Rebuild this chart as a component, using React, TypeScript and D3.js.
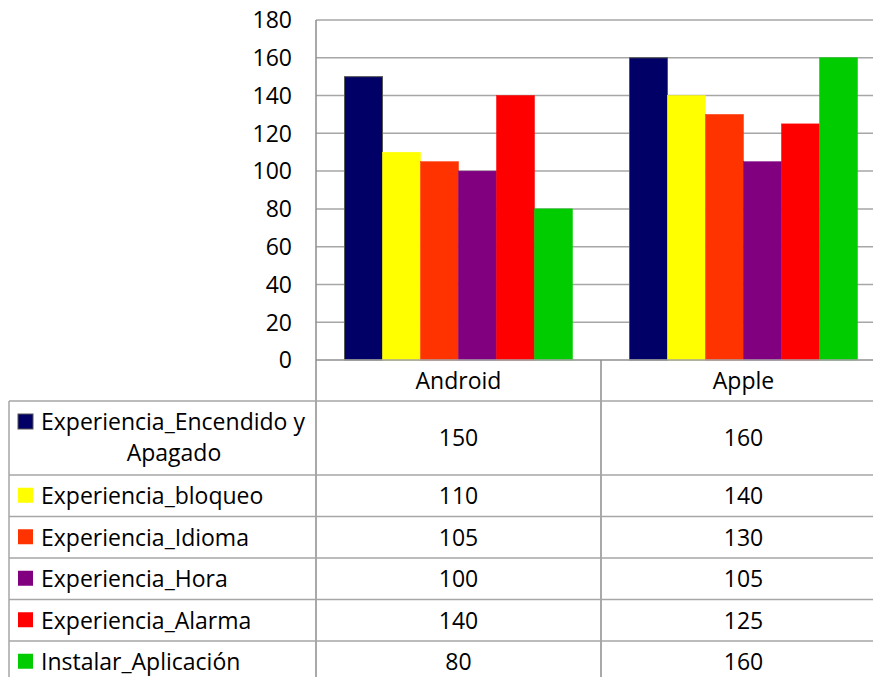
import React from 'react';
import * as d3 from 'd3';

const categories = ['Android', 'Apple'];
const seriesNames = [
  'Experiencia_Encendido y Apagado',
  'Experiencia_bloqueo',
  'Experiencia_Idioma',
  'Experiencia_Hora',
  'Experiencia_Alarma',
  'Instalar_Aplicación',
];
const androidValues = [150, 110, 105, 100, 140, 80];
const appleValues = [160, 140, 130, 105, 125, 160];
const seriesColors = ['#000066', '#FFFF00', '#FF3300', '#800080', '#FF0000', '#00CC00'];
const yTicks = [0, 20, 40, 60, 80, 100, 120, 140, 160, 180];

const W = 873;
const H = 677;
const FONT = '"Open Sans", sans-serif';
const FS = 23;

const App: React.FC = () => {
  const plotLeft = 316;
  const plotRight = 886;
  const plotTop = 20;
  const plotBottom = 360;

  const y = d3.scaleLinear().domain([0, 180]).range([plotBottom, plotTop]);
  const x0 = d3.scaleBand<string>().domain(categories).range([plotLeft, plotRight]);
  const bw = x0.bandwidth();
  const x1 = d3.scaleBand<string>().domain(seriesNames).range([bw * 0.1, bw * 0.9]);

  const valuesByCat = [androidValues, appleValues];

  // table geometry
  const headerBottom = 401;
  const rowHeights = [74, 41.5, 41.5, 41.5, 41.5, 41.5];
  const rowTops: number[] = [];
  let acc = headerBottom;
  rowHeights.forEach((h) => { rowTops.push(acc); acc += h; });
  const tableLeft = 9;
  const gridColor = '#a6a6a6';
  const lineColor = '#8c8c8c';

  return (
    <svg width={W} height={H} style={{ position: 'absolute', left: 0, top: 0, background: '#fff' }}>
      <rect x={0} y={0} width={W} height={H} fill="#fff" />
      {/* gridlines */}
      {yTicks.map((t) => (
        <line key={'g' + t} x1={plotLeft} x2={plotRight} y1={y(t)} y2={y(t)} stroke={gridColor} strokeWidth={1.5} />
      ))}
      {/* y tick labels */}
      {yTicks.map((t) => (
        <text key={'t' + t} x={292} y={y(t)} dy="0.36em" textAnchor="end" fontFamily={FONT} fontSize={FS} fill="#000">
          {t}
        </text>
      ))}
      {/* bars */}
      {categories.map((c, ci) => (
        <g key={c} transform={`translate(${x0(c)},0)`}>
          {seriesNames.map((s, si) => (
            <rect
              key={s}
              x={x1(s)}
              y={y(valuesByCat[ci][si])}
              width={x1.bandwidth()}
              height={y(0) - y(valuesByCat[ci][si])}
              fill={seriesColors[si]}
              stroke={si === 0 ? '#555' : seriesColors[si]}
              strokeWidth={si === 0 ? 1 : 0.5}
            />
          ))}
        </g>
      ))}
      {/* axis line */}
      <line x1={plotLeft} x2={plotRight} y1={plotBottom} y2={plotBottom} stroke={gridColor} strokeWidth={1.5} />
      <line x1={plotLeft} x2={plotLeft} y1={plotTop} y2={H} stroke={lineColor} strokeWidth={1.5} />
      <line x1={601} x2={601} y1={plotBottom} y2={H} stroke={lineColor} strokeWidth={1.5} />
      <line x1={tableLeft} x2={tableLeft} y1={headerBottom} y2={H} stroke={gridColor} strokeWidth={1.5} />
      {/* category labels */}
      {categories.map((c) => (
        <text key={c} x={(x0(c) as number) + bw / 2} y={(plotBottom + headerBottom) / 2} dy="0.36em" textAnchor="middle" fontFamily={FONT} fontSize={FS} fill="#000">
          {c}
        </text>
      ))}
      {/* table rows */}
      {seriesNames.map((s, si) => {
        const top = rowTops[si];
        const h = rowHeights[si];
        const mid = top + h / 2;
        return (
          <g key={s}>
            <line x1={tableLeft} x2={plotRight} y1={top} y2={top} stroke={gridColor} strokeWidth={1.5} />
            {si === 0 ? (
              <>
                <rect x={18} y={414} width={15} height={15} fill={seriesColors[si]} stroke="#555" strokeWidth={1} />
                <text x={41} y={422} dy="0.36em" fontFamily={FONT} fontSize={FS} fill="#000">Experiencia_Encendido y</text>
                <text x={174} y={453} dy="0.36em" textAnchor="middle" fontFamily={FONT} fontSize={FS} fill="#000">Apagado</text>
              </>
            ) : (
              <>
                <rect x={18} y={mid - 8} width={15} height={15} fill={seriesColors[si]} />
                <text x={41} y={mid} dy="0.36em" fontFamily={FONT} fontSize={FS} fill="#000">{s}</text>
              </>
            )}
            {categories.map((c, ci) => (
              <text key={c} x={(x0(c) as number) + bw / 2} y={mid} dy="0.36em" textAnchor="middle" fontFamily={FONT} fontSize={FS} fill="#000">
                {valuesByCat[ci][si]}
              </text>
            ))}
          </g>
        );
      })}
    </svg>
  );
};

export default App;
